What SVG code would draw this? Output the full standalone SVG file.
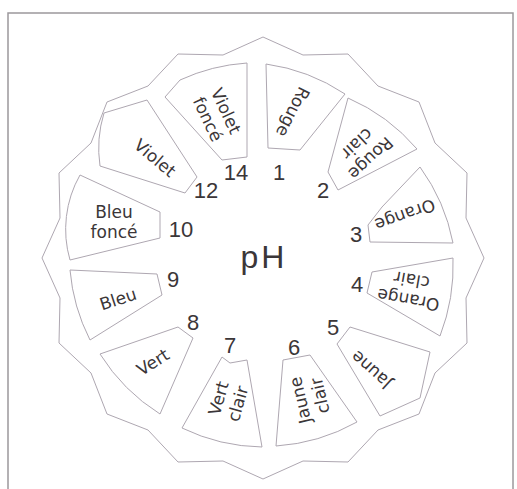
<svg xmlns="http://www.w3.org/2000/svg" width="517" height="489" viewBox="0 0 517 489">
<style>
.frame{fill:none;stroke:#9c989c;stroke-width:1.5}
.line{fill:#fff;stroke:#aea7b1;stroke-width:1;stroke-linejoin:round}
.lbl{font-family:"DejaVu Sans",sans-serif;font-size:17px;fill:#3b3638;text-anchor:middle}
.num{font-family:"Liberation Sans",Arial,sans-serif;font-size:22px;fill:#3b3638;text-anchor:middle}
.ph{font-family:"Liberation Sans",Arial,sans-serif;font-size:32px;fill:#3b3638;text-anchor:middle;letter-spacing:3px}
</style>
<rect x="0" y="0" width="517" height="489" fill="#fff"/>
<rect class="frame" x="8" y="13" width="505" height="500"/>
<g id="outline">
<polygon class="line" points="263,37 303,55 348,54 378,86 419,102 435,143 467,173 466,218 484,258 466,298 467,343 435,373 419,414 378,430 348,462 303,461 263,479 223,461 178,462 148,430 107,414 91,373 59,343 60,298 42,258 60,218 59,173 91,143 107,102 148,86 178,54 223,55"/>
</g>
<g id="card-1"><path class="line" d="M266,64 A190,190 0 0 1 345,94 L300,150 L268,148 Z"/>
<text class="lbl" transform="translate(293,112) rotate(117)" y="6">Rouge</text></g>
<g id="card-2"><path class="line" d="M348,98 A190,190 0 0 1 417,149 L338,190 L328,172 Z"/>
<text class="lbl" transform="translate(364,151) rotate(137)"><tspan x="0" y="-4">Rouge</tspan><tspan x="0" y="16">clair</tspan></text></g>
<g id="card-3"><path class="line" d="M368,225 L382,207 L420,167 A190,190 0 0 1 453,243 L370,242 Z"/>
<text class="lbl" transform="translate(405,215) rotate(160)" y="6">Orange</text></g>
<g id="card-4"><path class="line" d="M372,272 L453,258 A195,195 0 0 1 440,336 L367,293 Z"/>
<text class="lbl" transform="translate(410,290) rotate(190)"><tspan x="0" y="-4">Orange</tspan><tspan x="0" y="16">clair</tspan></text></g>
<g id="card-5"><path class="line" d="M350,327 L430,352 L420,398 L380,416 L337,344 Z"/>
<text class="lbl" transform="translate(371,370) rotate(222)" y="6">Jaune</text></g>
<g id="card-6"><path class="line" d="M283,360 L310,355 L357,422 A190,190 0 0 1 276,446 Z"/>
<text class="lbl" transform="translate(310,398) rotate(257)"><tspan x="0" y="-4">Jaune</tspan><tspan x="0" y="16">clair</tspan></text></g>
<g id="card-7"><path class="line" d="M222,357 L230,363 L247,360 L262,447 A190,190 0 0 1 182,428 Z"/>
<text class="lbl" transform="translate(228,401) rotate(286)"><tspan x="0" y="-4">Vert</tspan><tspan x="0" y="16">clair</tspan></text></g>
<g id="card-8"><path class="line" d="M178,327 L193,338 L160,414 A190,190 0 0 1 100,354 Z"/>
<text class="lbl" transform="translate(153,362) rotate(-32)" y="6">Vert</text></g>
<g id="card-9"><path class="line" d="M70,270 L157,274 L162,295 L90,340 A190,190 0 0 1 70,270 Z"/>
<text class="lbl" transform="translate(118,299) rotate(-18)" y="6">Bleu</text></g>
<g id="card-10"><path class="line" d="M80,175 L160,212 L160,238 L70,260 A110,110 0 0 1 80,175 Z"/>
<text class="lbl" transform="translate(114,222) rotate(0)"><tspan x="0" y="-4">Bleu</tspan><tspan x="0" y="16">foncé</tspan></text></g>
<g id="card-12"><path class="line" d="M104,113 L147,100 L197,177 L185,193 L100,166 Q96,139 104,113 Z"/>
<text class="lbl" transform="translate(155,158) rotate(40)" y="6">Violet</text></g>
<g id="card-14"><path class="line" d="M165,97 L180,80 A190,190 0 0 1 247,63 L247,157 L222,160 Z"/>
<text class="lbl" transform="translate(217,115) rotate(65)"><tspan x="0" y="-4">Violet</tspan><tspan x="0" y="16">foncé</tspan></text></g>
<g id="numbers">
<text class="num" x="279" y="180">1</text>
<text class="num" x="323" y="198">2</text>
<text class="num" x="356" y="242">3</text>
<text class="num" x="357" y="292">4</text>
<text class="num" x="333" y="335">5</text>
<text class="num" x="294" y="355">6</text>
<text class="num" x="230" y="353">7</text>
<text class="num" x="193" y="330">8</text>
<text class="num" x="173" y="287">9</text>
<text class="num" x="181" y="237">10</text>
<text class="num" x="206" y="198">12</text>
<text class="num" x="236" y="180">14</text>
</g>
<g id="center"><text class="ph" x="264" y="268">pH</text></g>
</svg>
